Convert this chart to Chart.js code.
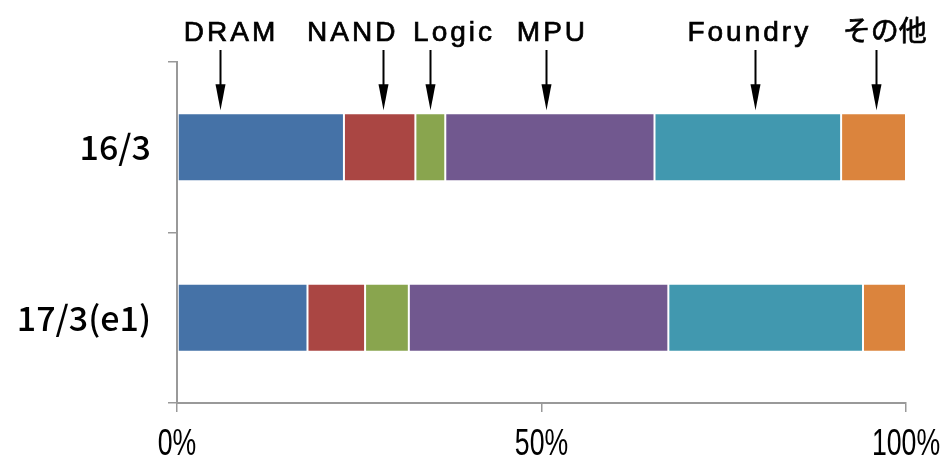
<!DOCTYPE html>
<html>
<head>
<meta charset="utf-8">
<script src="https://cdn.jsdelivr.net/npm/chart.js@4"></script>
<style>
  html, body { margin: 0; padding: 0; background: #fff; }
  #wrap { width: 942px; height: 459px; position: relative; }
</style>
</head>
<body>
<div id="wrap"><canvas id="chart"></canvas></div>
<script>
// categories and series (share of each segment, %)
const periods = ['16/3', '17/3(e1)'];
const segments = ['DRAM', 'NAND', 'Logic', 'MPU', 'Foundry', 'その他'];
const dram    = [22.9, 17.9];
const nand    = [9.8, 7.9];
const logic   = [4.1, 6.0];
const mpu     = [28.7, 35.6];
const foundry = [25.6, 26.7];
const other   = [8.9, 5.9];
const xTicks  = [0, 50, 100];

// annotation spots in axis units (%): where the label sits and where its arrow points
const labelAt = [7.2, 23.9, 37.8, 51.3, 78.3, 97.1];
const arrowAt = [5.9, 28.3, 34.7, 50.6, 79.3, 95.9];

const colors = ['#4572A7', '#AA4643', '#89A54E', '#71588F', '#4198AF', '#DB843D'];
const series = [dram, nand, logic, mpu, foundry, other];

const axisGray = '#999999';

// segment names on top with arrows down to the first bar,
// plus the narrow x tick labels (Chart.js can't squeeze a font itself)
const annotations = {
    id: 'annotations',
    afterDraw(chart) {
        const ctx = chart.ctx;
        const x = chart.scales.x;
        const top = chart.chartArea.top;
        const firstBar = chart.getDatasetMeta(0).data[0];
        const tipY = firstBar.y - firstBar.height / 2 - 3;

        ctx.save();
        segments.forEach((name, i) => {
            const isLatin = /^[\x00-\x7f]+$/.test(name);
            ctx.font = '28px "Liberation Sans", "Noto Sans CJK JP", sans-serif';
            ctx.letterSpacing = isLatin ? '3px' : '0px';
            ctx.fillStyle = '#000';
            ctx.strokeStyle = '#000';
            ctx.lineWidth = 0.7;
            ctx.textAlign = 'center';
            ctx.textBaseline = 'middle';
            const tx = x.getPixelForValue(labelAt[i]) + (isLatin ? 1.5 : 0);
            ctx.fillText(name, tx, top - 29);
            ctx.strokeText(name, tx, top - 29);

            const ax = Math.round(x.getPixelForValue(arrowAt[i])) + 0.5;
            ctx.lineWidth = 2;
            ctx.beginPath();
            ctx.moveTo(ax, top - 12);
            ctx.lineTo(ax, tipY - 20);
            ctx.stroke();

            ctx.beginPath();
            ctx.moveTo(ax - 5, tipY - 26);
            ctx.lineTo(ax + 5, tipY - 26);
            ctx.lineTo(ax, tipY);
            ctx.closePath();
            ctx.fill();
        });

        ctx.letterSpacing = '0px';
        ctx.font = '36px "Liberation Sans", sans-serif';
        ctx.textAlign = 'center';
        ctx.textBaseline = 'middle';
        const labelY = chart.chartArea.bottom + 42;
        xTicks.forEach(v => {
            ctx.save();
            ctx.translate(x.getPixelForValue(v), labelY);
            ctx.scale(0.74, 1);
            ctx.fillText(v + '%', 0, 0);
            ctx.restore();
        });
        ctx.restore();
    }
};

const ctx = document.getElementById('chart').getContext('2d');

new Chart(ctx, {
    type: 'bar',
    data: {
        labels: periods,
        datasets: segments.map((name, i) => ({
            label: name,
            data: series[i],
            backgroundColor: colors[i],
            borderColor: 'rgba(255,255,255,0.35)',
            borderWidth: 1,
            borderSkipped: false,
            barPercentage: 0.4,
            categoryPercentage: 1.0
        }))
    },
    options: {
        indexAxis: 'y',
        responsive: true,
        maintainAspectRatio: false,
        animation: false,
        layout: {
            padding: { top: 62, right: 36, left: 0, bottom: 0 }
        },
        scales: {
            x: {
                stacked: true,
                min: 0,
                max: 100,
                afterBuildTicks: (scale) => {
                    scale.ticks = xTicks.map(v => ({ value: v }));
                },
                afterFit: (scale) => {
                    scale.height = 56;
                },
                border: { display: true, color: axisGray, width: 2 },
                grid: {
                    drawOnChartArea: false,
                    drawTicks: true,
                    tickLength: 9,
                    color: axisGray,
                    lineWidth: 1.5
                },
                ticks: { display: false }
            },
            y: {
                stacked: true,
                afterFit: (scale) => {
                    scale.width = 177;
                },
                border: { display: true, color: axisGray, width: 2 },
                grid: {
                    offset: true,
                    drawOnChartArea: false,
                    drawTicks: true,
                    tickLength: 9,
                    color: axisGray,
                    lineWidth: 1.5
                },
                ticks: {
                    color: '#000',
                    padding: 17,
                    font: { family: '"Noto Sans CJK JP", sans-serif', size: 34, weight: 500 }
                }
            }
        },
        plugins: {
            legend: { display: false },
            tooltip: { enabled: false }
        }
    },
    plugins: [annotations]
});
</script>
</body>
</html>
